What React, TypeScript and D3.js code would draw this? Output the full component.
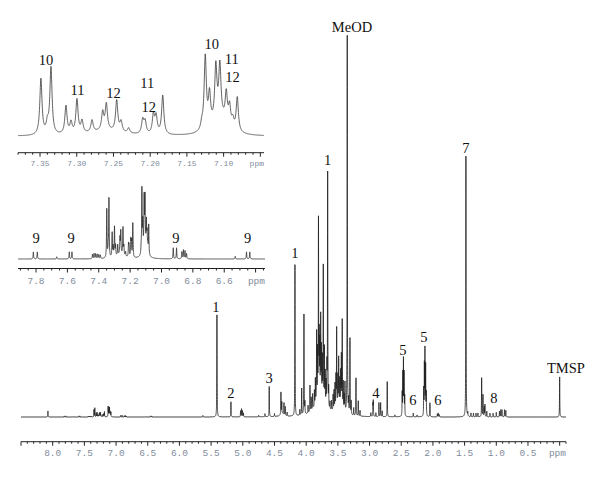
import { useEffect, useRef } from "react";
import * as d3 from "d3";

// main 1H trace: line positions (ppm) and heights (% of the MeOD line)
const mainPpm = [
  8.075, 5.63, 5.408, 5.187, 5.035, 5.02, 5.005, 4.99, 4.75, 4.65, 4.583, 4.5,
  4.398, 4.385, 4.35, 4.33, 4.3, 4.177, 4.1, 4.071, 4.035, 4.02, 3.97, 3.94,
  3.92, 3.898, 3.87, 3.855, 3.835, 3.82, 3.806, 3.795, 3.785, 3.771, 3.76,
  3.745, 3.73, 3.712, 3.7, 3.685, 3.672, 3.661, 3.645, 3.625, 3.6, 3.575, 3.56,
  3.545, 3.53, 3.519, 3.5, 3.487, 3.47, 3.455, 3.445, 3.431, 3.415, 3.4, 3.388,
  3.352, 3.33, 3.309, 3.29, 3.25, 3.214, 3.178, 3.15, 2.98, 2.947, 2.941, 2.9,
  2.852, 2.825, 2.8, 2.721, 2.6, 2.485, 2.475, 2.465, 2.455, 2.445, 2.31, 2.25,
  2.145, 2.135, 2.126, 2.115, 2.105, 2.047, 1.93, 1.916, 1.9, 1.479, 1.45, 1.4,
  1.36, 1.32, 1.29, 1.231, 1.21, 1.19, 1.179, 1.15, 1.1, 1.05, 1.0, 0.95, 0.93,
  0.91, 0.87, 0.85, 0.0,
];
const mainInt = [
  1.6, 0.4, 27, 4, 1.6, 2.1, 1.6, 1.0, 0.4, 0.8, 8, 0.8,
  5.8, 3, 3.2, 2.4, 1, 40, 1.5, 7, 26.5, 3, 2, 7,
  3.5, 4, 4, 6.5, 18, 12, 46, 15, 13, 20, 12,
  10, 35, 14, 8, 6, 10, 62, 5, 2, 2.5, 4, 5,
  6.5, 8, 20.5, 7.5, 12, 6.5, 8.5, 13, 23, 7, 4, 7.5,
  100, 3.5, 20, 3.5, 2, 10, 4, 1.5, 1, 3.2, 4, 1,
  3.7, 3.7, 1.5, 9.3, 0.5, 6, 11, 14.5, 11, 5, 1, 0.5,
  7, 13, 17, 13, 6, 3.7, 0.8, 1, 0.6, 69, 1, 1,
  1, 1, 1, 10.3, 5.8, 2.5, 3.2, 1.5, 1, 1, 1.2, 1.5, 1.9,
  1.9, 1.9, 1.7, 10.6,
];
// broad envelopes under the sugar region
const humpPpm = [3.78, 3.48, 4.38];
const humpInt = [6, 3, 0.8];
const humpHw = [0.08, 0.06, 0.03];

// aromatic region, heights in inset units
const aroPpm = [
  7.817, 7.792, 7.668, 7.588, 7.571, 7.44, 7.43, 7.42, 7.41, 7.4, 7.39,
  7.3488, 7.34, 7.3351, 7.3147, 7.3078, 7.2997, 7.2928, 7.2792, 7.2647, 7.2597,
  7.2456, 7.2396, 7.2293, 7.2102, 7.2069, 7.1956, 7.1919, 7.1829, 7.1297,
  7.125, 7.1192, 7.1106, 7.1051, 7.0964, 7.0919, 7.0874, 7.0814,
  6.925, 6.904, 6.87, 6.86, 6.85, 6.84, 6.53, 6.458, 6.437,
];
const aroInt = [
  8, 8, 2.5, 8, 8, 5, 6, 5.5, 5, 4.5, 4,
  56, 10, 67, 28, 11, 34, 12, 12, 18, 26,
  31, 10, 5, 14, 12, 19, 17, 39, 6,
  73, 32, 54, 52, 30, 20, 9, 34,
  12.5, 12.5, 8, 10, 9, 6, 3, 8, 8,
];
const aroHumpPpm = [7.105, 7.26];
const aroHumpInt = [16, 5];
const aroHumpHw = [0.012, 0.03];

const mainTicks = ["8.0", "7.5", "7.0", "6.5", "6.0", "5.5", "5.0", "4.5", "4.0", "3.5", "3.0", "2.5", "2.0", "1.5", "1.0", "0.5"];
const inset1Ticks = ["7.35", "7.30", "7.25", "7.20", "7.15", "7.10"];
const inset2Ticks = ["7.8", "7.6", "7.4", "7.2", "7.0", "6.8", "6.6"];

// peak assignments: text, ppm, height level (data units of each panel)
const mainLabelText = ["1", "2", "3", "1", "1", "MeOD", "4", "5", "6", "5", "6", "7", "8", "TMSP"];
const mainLabelPpm = [5.424, 5.187, 4.583, 4.177, 3.661, 3.277, 2.899, 2.473, 2.315, 2.142, 1.92, 1.479, 1.037, -0.099];
const mainLabelLevel = [27.8, 5, 9, 42, 66.7, 101.9, 5, 16.4, 3.2, 19.8, 3.2, 69.8, 3.7, 11.6];

const inset1LabelText = ["10", "11", "12", "11", "12", "10", "11", "12"];
const inset1LabelPpm = [7.342, 7.299, 7.25, 7.204, 7.202, 7.116, 7.089, 7.088];
const inset1LabelLevel = [71.5, 41.5, 38.5, 48.5, 24.5, 87.5, 72.5, 54.5];

const inset2LabelText = ["9", "9", "9", "9"];
const inset2LabelPpm = [7.8, 7.577, 6.908, 6.45];
const inset2LabelLevel = [16, 16, 16, 16];

const lorentz = (p, ppms, ints, hw, gain = 1) => {
  let s = 0;
  for (let i = 0; i < ppms.length; i++) {
    const d = (p - ppms[i]) / (Array.isArray(hw) ? hw[i] : hw);
    s += ints[i] / (1 + d * d);
  }
  return s * gain;
};

const App = () => {
  const svgRef = useRef(null);

  useEffect(() => {
    const svg = d3.select(svgRef.current);
    svg.selectAll("*").remove();

    const aro = (p, gain) =>
      lorentz(p, aroPpm, aroInt, 0.0018, gain) +
      lorentz(p, aroHumpPpm, aroHumpInt, aroHumpHw, gain);

    const drawPanel = (cfg) => {
      const x = d3.scaleLinear().domain(cfg.domain).range(cfg.xRange);
      const y = d3.scaleLinear().domain([0, 100]).range(cfg.yRange);
      const pts = d3
        .range(cfg.domain[0], cfg.domain[1], -cfg.step)
        .map((p) => [p, cfg.value(p)]);

      const line = d3
        .line()
        .x((d) => x(d[0]))
        .y((d) => y(d[1]));

      svg
        .append("path")
        .datum(pts)
        .attr("d", line)
        .attr("fill", "none")
        .attr("stroke", cfg.stroke)
        .attr("stroke-width", 0.8);

      // axis
      const g = svg.append("g").attr("transform", `translate(0, ${cfg.axisY})`);
      g.append("line")
        .attr("x1", cfg.xRange[0])
        .attr("x2", cfg.xRange[1])
        .attr("stroke", "#222")
        .attr("stroke-width", 1);
      const lo = Math.min(...cfg.domain);
      const hi = Math.max(...cfg.domain);
      const nMinor = Math.round((hi - lo) / cfg.minor);
      d3.range(0, nMinor + 1).forEach((i) => {
        const v = Math.ceil(lo / cfg.minor) * cfg.minor + i * cfg.minor;
        if (v > hi + 1e-9) return;
        const isMajor = Math.abs(v / cfg.major - Math.round(v / cfg.major)) < 1e-6;
        g.append("line")
          .attr("x1", x(v))
          .attr("x2", x(v))
          .attr("y1", 0)
          .attr("y2", isMajor ? 4 : 2)
          .attr("stroke", "#222")
          .attr("stroke-width", 1);
      });
      g.selectAll("text.tick")
        .data(cfg.ticks)
        .enter()
        .append("text")
        .attr("x", (d) => x(+d))
        .attr("y", cfg.labelDy)
        .attr("text-anchor", "middle")
        .style("font-family", "Liberation Mono, monospace")
        .style("font-size", cfg.fontSize + "px")
        .style("fill", "#7f8c9c")
        .text((d) => d);
      g.append("text")
        .attr("x", cfg.xRange[1])
        .attr("y", cfg.labelDy)
        .attr("text-anchor", "end")
        .style("font-family", "Liberation Mono, monospace")
        .style("font-size", cfg.fontSize + "px")
        .style("fill", "#7f8c9c")
        .text("ppm");

      // peak labels
      svg
        .selectAll(null)
        .data(cfg.labelText)
        .enter()
        .append("text")
        .attr("x", (d, i) => x(cfg.labelPpm[i]))
        .attr("y", (d, i) => y(cfg.labelLevel[i]))
        .attr("text-anchor", "middle")
        .style("font-family", "Liberation Serif, Times New Roman, serif")
        .style("font-size", "14.5px")
        .style("fill", "#111")
        .text((d) => d);
    };

    drawPanel({
      domain: [8.5, -0.1],
      xRange: [21, 566],
      yRange: [417, 39],
      step: 0.0005,
      value: (p) =>
        lorentz(p, mainPpm, mainInt, 0.0025) +
        lorentz(p, humpPpm, humpInt, humpHw) +
        aro(p, 0.035),
      stroke: "#1a1a1a",
      axisY: 441.7,
      minor: 0.1,
      major: 0.5,
      ticks: mainTicks,
      labelDy: 14,
      fontSize: 9.5,
      labelText: mainLabelText,
      labelPpm: mainLabelPpm,
      labelLevel: mainLabelLevel,
    });

    drawPanel({
      domain: [7.38, 7.045],
      xRange: [18, 264],
      yRange: [136.5, 36.5],
      step: 0.0002,
      value: (p) => aro(p, 1),
      stroke: "#3a3a3a",
      axisY: 152.7,
      minor: 0.01,
      major: 0.05,
      ticks: inset1Ticks,
      labelDy: 13,
      fontSize: 8,
      labelText: inset1LabelText,
      labelPpm: inset1LabelPpm,
      labelLevel: inset1LabelLevel,
    });

    drawPanel({
      domain: [7.915, 6.34],
      xRange: [18, 265],
      yRange: [259, 159],
      step: 0.0005,
      value: (p) => aro(p, 0.88),
      stroke: "#2a2a2a",
      axisY: 268.5,
      minor: 0.05,
      major: 0.2,
      ticks: inset2Ticks,
      labelDy: 15,
      fontSize: 9.5,
      labelText: inset2LabelText,
      labelPpm: inset2LabelPpm,
      labelLevel: inset2LabelLevel,
    });
  }, []);

  return (
    <svg
      ref={svgRef}
      width={600}
      height={483}
      style={{ position: "absolute", left: 0, top: 0, background: "#fff" }}
    ></svg>
  );
};

export default App;
